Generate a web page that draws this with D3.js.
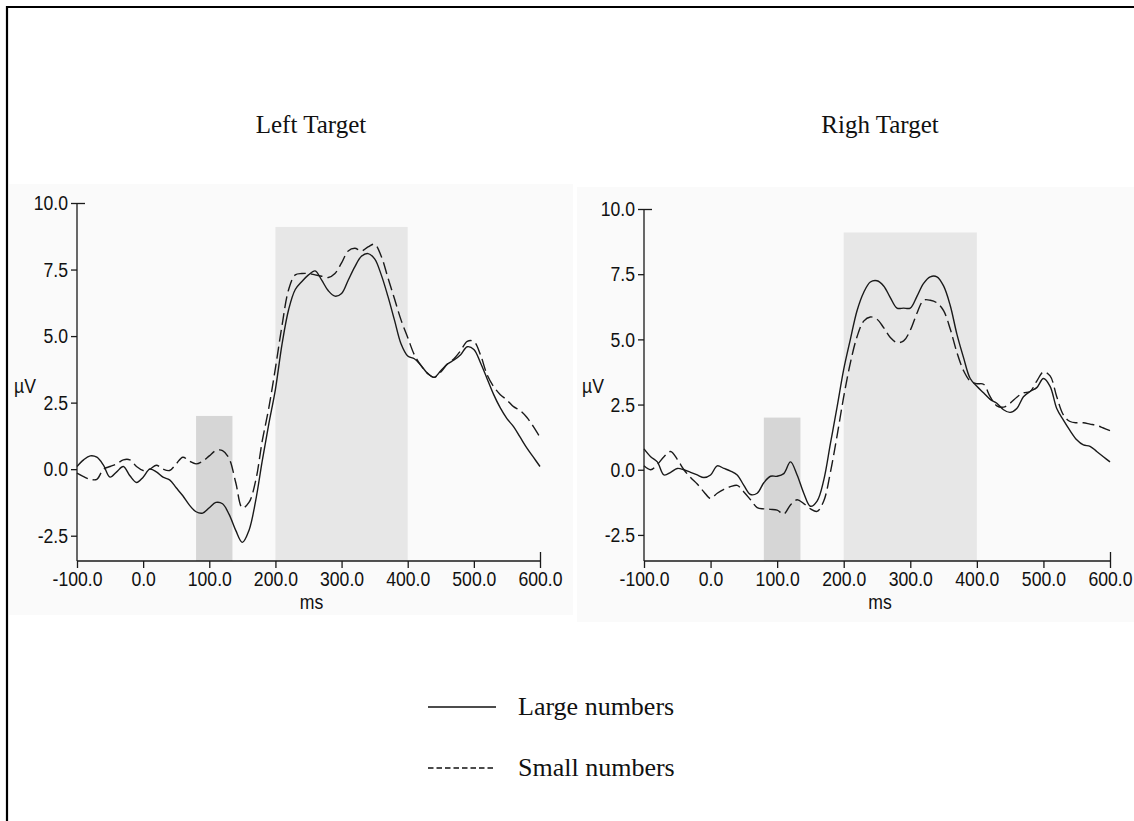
<!DOCTYPE html>
<html><head><meta charset="utf-8">
<script src="https://cdn.jsdelivr.net/npm/d3@7"></script>
<style>
html,body{margin:0;padding:0;background:#fff;}
svg{display:block;}
</style></head>
<body>
<svg id="chart" width="1134" height="821"></svg>
<script>
// ---------- DATA ----------
const times = d3.range(-100, 601, 10); // ms sample grid (-100 .. 600)
const xTicks = [-100, 0, 100, 200, 300, 400, 500, 600];
const yTicks = [-2.5, 0, 2.5, 5, 7.5, 10];
const panelTitles = ["Left Target", "Righ Target"];
const seriesNames = ["Large numbers", "Small numbers"];
const shadeWindows = [[80, 135, 2.0], [200, 400, 9.1]]; // [start ms, end ms, top µV]

const leftLarge = [0.1,0.35,0.5,0.45,0.15,-0.3,-0.1,0.1,-0.25,-0.5,-0.3,0.0,-0.1,-0.3,-0.4,-0.7,-1.0,-1.35,-1.6,-1.65,-1.45,-1.25,-1.3,-1.7,-2.3,-2.75,-2.3,-1.2,0.3,1.7,3.0,4.7,6.0,6.75,7.05,7.3,7.45,7.1,6.7,6.5,6.6,7.1,7.6,8.0,8.1,7.9,7.3,6.5,5.6,4.7,4.25,4.15,3.9,3.6,3.45,3.7,3.95,4.1,4.3,4.6,4.5,4.0,3.4,2.8,2.3,1.9,1.6,1.2,0.8,0.45,0.1];
const leftSmall = [-0.15,-0.28,-0.38,-0.38,0.0,0.1,0.2,0.35,0.35,0.1,-0.05,0.0,0.15,0.0,-0.05,0.2,0.45,0.3,0.2,0.3,0.5,0.7,0.7,0.4,-0.5,-1.45,-1.25,-0.45,1.05,2.3,3.8,5.4,6.75,7.3,7.35,7.35,7.3,7.25,7.2,7.35,7.75,8.2,8.3,8.2,8.35,8.45,8.0,7.2,6.4,5.6,4.95,4.3,3.9,3.6,3.45,3.65,3.95,4.15,4.45,4.8,4.8,4.3,3.55,3.1,2.8,2.6,2.35,2.2,1.95,1.6,1.2];
const rightLarge = [0.8,0.5,0.3,-0.2,-0.1,0.05,0.0,-0.1,-0.2,-0.3,-0.2,0.15,0.05,-0.05,-0.2,-0.6,-0.95,-0.9,-0.5,-0.25,-0.25,-0.15,0.3,-0.2,-0.9,-1.4,-1.2,-0.4,1.0,2.4,3.85,5.0,6.1,6.8,7.2,7.25,7.05,6.6,6.2,6.2,6.2,6.65,7.15,7.4,7.4,7.05,6.3,5.2,4.3,3.5,3.2,2.95,2.7,2.55,2.3,2.2,2.35,2.8,3.0,3.15,3.5,3.2,2.35,1.9,1.5,1.15,0.95,0.9,0.7,0.5,0.3];
const rightSmall = [0.15,0.0,0.2,0.5,0.7,0.4,0.0,-0.3,-0.55,-0.85,-1.1,-0.9,-0.75,-0.65,-0.6,-0.85,-1.15,-1.45,-1.5,-1.52,-1.55,-1.7,-1.35,-1.15,-1.3,-1.5,-1.6,-1.2,-0.1,1.3,2.8,4.1,5.1,5.7,5.86,5.77,5.45,5.07,4.88,4.94,5.35,6.0,6.5,6.5,6.4,6.1,5.4,4.5,3.8,3.4,3.3,3.28,2.8,2.45,2.4,2.55,2.78,2.95,3.0,3.4,3.75,3.6,2.8,2.1,1.85,1.8,1.8,1.75,1.7,1.6,1.5];

// ---------- LAYOUT ----------
const svg = d3.select("#chart");
const tickFont = "'Liberation Sans',Arial,sans-serif";
const serif = "'Liberation Serif','Times New Roman',serif";
const ink = "#1a1a1a";
const narrow = 0.84; // horizontal squeeze to mimic the condensed axis font
const fmt = d => d.toFixed(1); // keeps ASCII hyphen for negatives

// outer frame (top + left lines)
svg.append("line").attr("x1",7).attr("x2",1134).attr("y1",7).attr("y2",7).attr("stroke","#000").attr("stroke-width",2.2);
svg.append("line").attr("x1",7).attr("x2",7).attr("y1",6).attr("y2",821).attr("stroke","#000").attr("stroke-width",2.2);

const panels = [
  {title: panelTitles[0], tx: 311, bg:[9,184,564,431], xr:[77,540], yr:[561,203], yTop:10, yBottom:-3.45, large:leftLarge, small:leftSmall, labX:25},
  {title: panelTitles[1], tx: 880, bg:[577,187,557,435], xr:[644,1110], yr:[561,209], yTop:10, yBottom:-3.5, large:rightLarge, small:rightSmall, labX:593}
];

function narrowText(sel, cx, cy, txt, anchor) {
  return sel.append("text")
    .attr("transform", `translate(${cx},${cy}) scale(${narrow},1)`)
    .attr("text-anchor", anchor || "middle")
    .attr("font-family", tickFont).attr("font-size", 21).attr("fill", "#111").text(txt);
}

panels.forEach(p => {
  const g = svg.append("g");
  g.append("rect").attr("x",p.bg[0]).attr("y",p.bg[1]).attr("width",p.bg[2]).attr("height",p.bg[3]).attr("fill","#fafafa");
  g.append("text").attr("x",p.tx).attr("y",133).attr("text-anchor","middle")
    .attr("font-family",serif).attr("font-size",25).attr("fill","#111").text(p.title);

  const x = d3.scaleLinear().domain([-100,600]).range(p.xr);
  const y = d3.scaleLinear().domain([p.yBottom, p.yTop]).range(p.yr);

  // shaded windows
  g.selectAll("rect.shade").data(shadeWindows).enter().append("rect")
    .attr("x", d => x(d[0])).attr("width", d => x(d[1]) - x(d[0]))
    .attr("y", d => y(d[2])).attr("height", d => y(p.yBottom) - y(d[2]))
    .attr("fill", (d,i) => i === 0 ? "#d6d6d6" : "#e7e7e7");

  // axes
  const yAxis = d3.axisLeft(y).tickValues(yTicks).tickFormat(fmt).tickSize(6).tickPadding(2);
  const ya = g.append("g").attr("transform",`translate(${p.xr[0]},0)`).call(yAxis);
  const xAxis = d3.axisBottom(x).tickValues(xTicks).tickFormat(fmt).tickSize(7).tickPadding(3);
  const xa = g.append("g").attr("transform",`translate(0,${p.yr[0]})`).call(xAxis);
  [ya, xa].forEach(a => {
    a.select(".domain").attr("stroke", ink).attr("stroke-width",1.3);
    a.selectAll(".tick line").attr("stroke", ink).attr("stroke-width",1.3);
    a.selectAll("text").attr("font-family",tickFont).attr("font-size",21).attr("fill","#111")
      .attr("transform", `scale(${narrow},1)`);
  });
  ya.selectAll("text").attr("x", -9 / narrow);
  ya.select(".domain").attr("d", `M0,${y(p.yTop)}V${y(p.yBottom)}`);
  xa.select(".domain").attr("d", `M${x(-100)},0H${x(600)}`);
  // top cap at 10.0 extends to the right, end cap at 600 extends upward
  ya.selectAll(".tick").filter(d => d === 10).select("line").attr("x1", 8);
  xa.selectAll(".tick").filter(d => d === 600).select("line").attr("y1", -9);

  narrowText(g, (p.xr[0]+p.xr[1])/2 + 3, 609, "ms");
  narrowText(g, p.labX, 393, "µV");

  const line = d3.line().x((d,i) => x(times[i])).y(d => y(d)).curve(d3.curveCatmullRom.alpha(0.5));
  g.append("path").datum(p.large).attr("d", line).attr("fill","none").attr("stroke",ink).attr("stroke-width",1.4);
  g.append("path").datum(p.small).attr("d", line).attr("fill","none").attr("stroke",ink).attr("stroke-width",1.4)
    .attr("stroke-dasharray","12,5");
});

// legend
const legend = svg.append("g");
seriesNames.forEach((name, i) => {
  const yy = 707 + i * 61;
  legend.append("line").attr("x1",428).attr("x2",496).attr("y1",yy).attr("y2",yy)
    .attr("stroke","#111").attr("stroke-width",1.6).attr("stroke-dasharray", i === 0 ? null : "5.5,3");
  legend.append("text").attr("x",518).attr("y",yy+8).attr("font-family",serif).attr("font-size",26)
    .attr("fill","#111").text(name);
});
</script>
</body></html>
